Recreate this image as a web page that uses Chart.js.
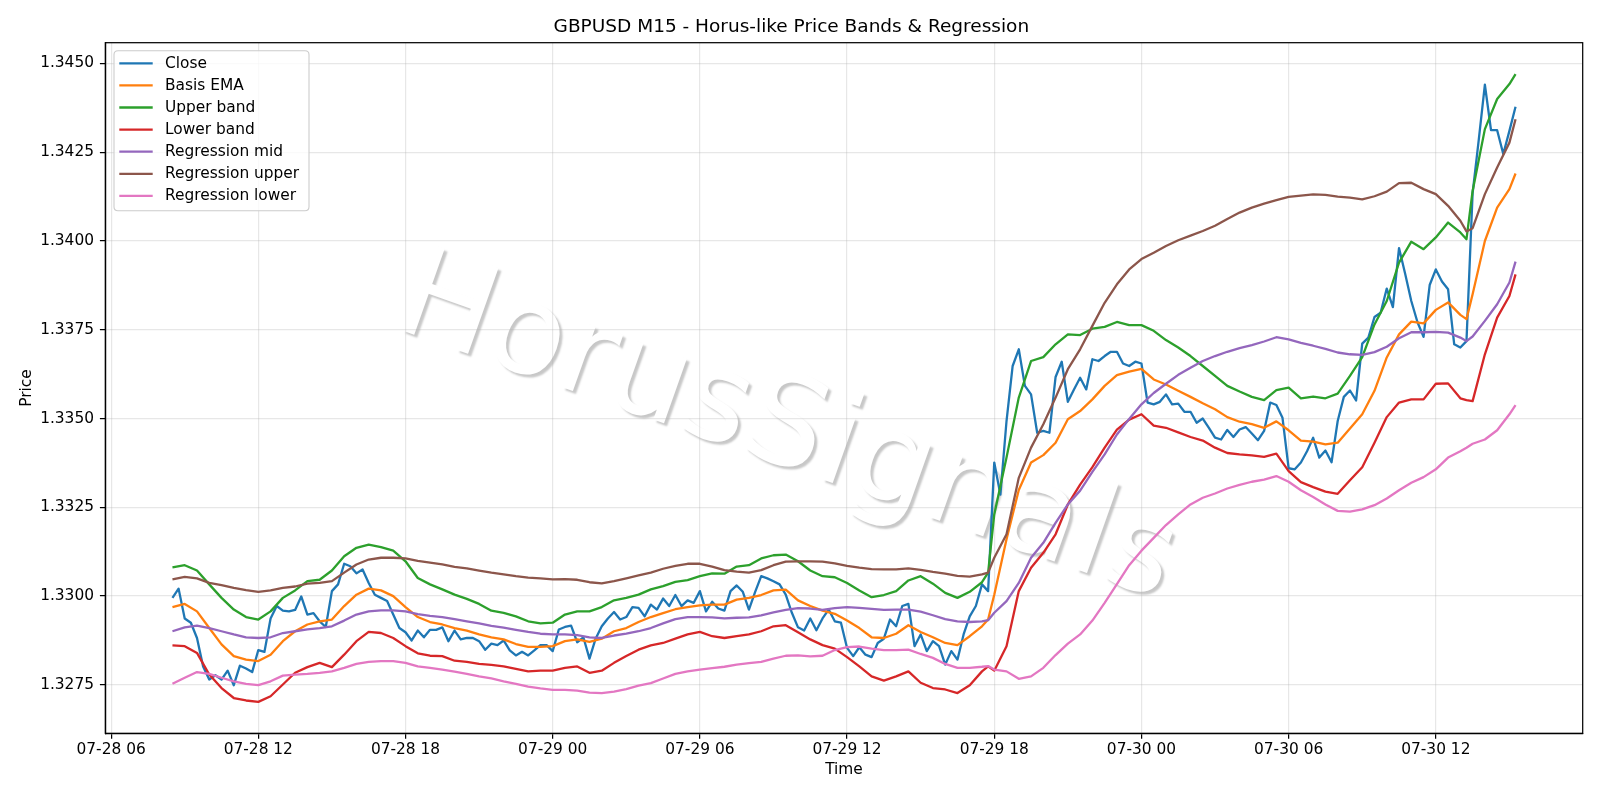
<!DOCTYPE html>
<html>
<head>
<meta charset="utf-8">
<script src="https://cdn.jsdelivr.net/npm/chart.js@4.4.1/dist/chart.umd.min.js"></script>
<style>
  html, body { margin: 0; padding: 0; background: #ffffff; }
  #wrap { width: 1600px; height: 800px; }
</style>
</head>
<body>
<div id="wrap"><canvas id="c" width="1600" height="800"></canvas></div>
<script>
// ---- time axis (hours since 07-28 00:00) ----
const startHour = 8.5;      // first bar: 07-28 08:30
const stepHours = 0.25;     // M15 bars
const xTickHours = [6, 12, 18, 24, 30, 36, 42, 48, 54, 60];
const xTickLabels = ['07-28 06', '07-28 12', '07-28 18', '07-29 00', '07-29 06', '07-29 12', '07-29 18', '07-30 00', '07-30 06', '07-30 12'];
const yTickValues = [1.3275, 1.3300, 1.3325, 1.3350, 1.3375, 1.3400, 1.3425, 1.3450];

const seriesNames = ['Close', 'Basis EMA', 'Upper band', 'Lower band', 'Regression mid', 'Regression upper', 'Regression lower'];
const seriesColors = ['#1f77b4', '#ff7f0e', '#2ca02c', '#d62728', '#9467bd', '#8c564b', '#e377c2'];
const watermarkText = 'HorusSignals';

// Close, every M15 bar
const closeValues = [
  1.32995, 1.33021, 1.32937, 1.32925, 1.32882, 1.32802, 1.32765, 1.32777, 1.32765, 1.32790,
  1.32749, 1.32804, 1.32796, 1.32786, 1.32848, 1.32843, 1.32937, 1.32972, 1.32959, 1.32957,
  1.32961, 1.32999, 1.32948, 1.32952, 1.32929, 1.32913, 1.33014, 1.33033, 1.33091, 1.33084,
  1.33064, 1.33075, 1.33037, 1.33004, 1.32995, 1.32986, 1.32948, 1.32910, 1.32898, 1.32875,
  1.32903, 1.32884, 1.32905, 1.32905, 1.32912, 1.32873, 1.32903, 1.32878, 1.32882, 1.32882,
  1.32873, 1.32849, 1.32866, 1.32862, 1.32875, 1.32847, 1.32833, 1.32843, 1.32833, 1.32847,
  1.32862, 1.32862, 1.32845, 1.32906, 1.32913, 1.32917, 1.32870, 1.32884, 1.32824, 1.32880,
  1.32915, 1.32937, 1.32955, 1.32934, 1.32941, 1.32969, 1.32967, 1.32943, 1.32976, 1.32962,
  1.32993, 1.32972, 1.33003, 1.32972, 1.32988, 1.32981, 1.33014, 1.32957, 1.32984, 1.32965,
  1.32959, 1.33014, 1.33030, 1.33012, 1.32962, 1.33011, 1.33056, 1.33050, 1.33042, 1.33033,
  1.33004, 1.32953, 1.32912, 1.32903, 1.32937, 1.32904, 1.32937, 1.32962, 1.32929, 1.32925,
  1.32854, 1.32831, 1.32856, 1.32835, 1.32828, 1.32868, 1.32880, 1.32934, 1.32915, 1.32972,
  1.32978, 1.32859, 1.32892, 1.32845, 1.32873, 1.32859, 1.32807, 1.32845, 1.32821, 1.32892,
  1.32943, 1.32972, 1.33033, 1.33014, 1.33376, 1.33286, 1.33493, 1.33648, 1.33695, 1.33592,
  1.33568, 1.33460, 1.33465, 1.33460, 1.33617, 1.33660, 1.33547, 1.33582, 1.33615, 1.33582,
  1.33667, 1.33662, 1.33676, 1.33688, 1.33688, 1.33655, 1.33648, 1.33660, 1.33655, 1.33545,
  1.33540, 1.33547, 1.33568, 1.33540, 1.33542, 1.33519, 1.33519, 1.33488, 1.33500, 1.33474,
  1.33446, 1.33441, 1.33468, 1.33448, 1.33469, 1.33476, 1.33458, 1.33439, 1.33465, 1.33545,
  1.33538, 1.33502, 1.33360, 1.33357, 1.33376, 1.33408, 1.33446, 1.33390, 1.33410, 1.33377,
  1.33493, 1.33561, 1.33579, 1.33551, 1.33711, 1.33728, 1.33786, 1.33798, 1.33866, 1.33814,
  1.33980, 1.33908, 1.33831, 1.33772, 1.33730, 1.33876, 1.33920, 1.33886, 1.33864, 1.33709,
  1.33700, 1.33718, 1.34135, 1.34285, 1.34440, 1.34312, 1.34312, 1.34245, 1.34310, 1.34378
];

// Smooth series were read at these bar indices (every 30 min plus a few turning points)
const bandIdx = [];
for (let i = 0; i <= 218; i += 2) bandIdx.push(i);
bandIdx.push(133, 211, 219);
bandIdx.sort((a, b) => a - b);

const emaValues = [
  1.32969, 1.32978, 1.32957, 1.32910, 1.32864, 1.32831, 1.32821, 1.32817, 1.32835, 1.32873,
  1.32901, 1.32920, 1.32929, 1.32934, 1.32972, 1.33004, 1.33021, 1.33016, 1.33000, 1.32969,
  1.32941, 1.32927, 1.32920, 1.32910, 1.32903, 1.32892, 1.32884, 1.32878, 1.32865, 1.32857,
  1.32857, 1.32859, 1.32873, 1.32878, 1.32871, 1.32880, 1.32901, 1.32910, 1.32927, 1.32941,
  1.32952, 1.32963, 1.32969, 1.32974, 1.32976, 1.32976, 1.32990, 1.32995, 1.33003, 1.33016,
  1.33018, 1.32988, 1.32972, 1.32959, 1.32950, 1.32931, 1.32910, 1.32884, 1.32882, 1.32894,
  1.32918, 1.32899, 1.32884, 1.32868, 1.32862, 1.32887, 1.32915, 1.32934, 1.33004, 1.33160, 1.33299,
  1.33376, 1.33397, 1.33432, 1.33498, 1.33521, 1.33554, 1.33592, 1.33622, 1.33632, 1.33640,
  1.33610, 1.33596, 1.33578, 1.33561, 1.33543, 1.33526, 1.33504, 1.33491, 1.33484, 1.33474,
  1.33492, 1.33467, 1.33438, 1.33435, 1.33427, 1.33432, 1.33472, 1.33512, 1.33578, 1.33672,
  1.33737, 1.33773, 1.33768, 1.33806, 1.33827, 1.33792, 1.33780, 1.33850, 1.34000, 1.34094, 1.34146, 1.34190
];

const upperValues = [
  1.33081, 1.33087, 1.33072, 1.33033, 1.32995, 1.32962, 1.32941, 1.32934, 1.32957, 1.32995,
  1.33016, 1.33042, 1.33046, 1.33072, 1.33112, 1.33136, 1.33145, 1.33138, 1.33128, 1.33098,
  1.33051, 1.33033, 1.33019, 1.33004, 1.32992, 1.32978, 1.32959, 1.32953, 1.32943, 1.32929,
  1.32923, 1.32925, 1.32948, 1.32957, 1.32957, 1.32969, 1.32988, 1.32995, 1.33004, 1.33019,
  1.33028, 1.33040, 1.33045, 1.33056, 1.33064, 1.33063, 1.33083, 1.33087, 1.33106, 1.33115,
  1.33117, 1.33098, 1.33072, 1.33056, 1.33053, 1.33037, 1.33016, 1.32997, 1.33003, 1.33014,
  1.33044, 1.33056, 1.33035, 1.33009, 1.32995, 1.33012, 1.33039, 1.33066, 1.33230, 1.33390, 1.33559,
  1.33662, 1.33673, 1.33709, 1.33737, 1.33735, 1.33753, 1.33758, 1.33772, 1.33763, 1.33763,
  1.33747, 1.33721, 1.33700, 1.33676, 1.33648, 1.33620, 1.33592, 1.33576, 1.33561, 1.33552,
  1.33580, 1.33587, 1.33557, 1.33562, 1.33557, 1.33570, 1.33620, 1.33673, 1.33765, 1.33831,
  1.33939, 1.33998, 1.33977, 1.34010, 1.34052, 1.34024, 1.34005, 1.34141, 1.34315, 1.34400, 1.34442, 1.34470
];

const lowerValues = [
  1.32861, 1.32859, 1.32840, 1.32779, 1.32741, 1.32713, 1.32706, 1.32702, 1.32718, 1.32751,
  1.32784, 1.32800, 1.32812, 1.32800, 1.32835, 1.32873, 1.32899, 1.32896, 1.32882, 1.32859,
  1.32839, 1.32832, 1.32831, 1.32818, 1.32815, 1.32809, 1.32806, 1.32802, 1.32795, 1.32788,
  1.32790, 1.32790, 1.32798, 1.32802, 1.32784, 1.32790, 1.32812, 1.32831, 1.32849, 1.32861,
  1.32868, 1.32880, 1.32892, 1.32899, 1.32887, 1.32882, 1.32887, 1.32892, 1.32901, 1.32915,
  1.32918, 1.32898, 1.32878, 1.32862, 1.32852, 1.32828, 1.32802, 1.32774, 1.32762, 1.32774,
  1.32788, 1.32756, 1.32741, 1.32737, 1.32727, 1.32749, 1.32788, 1.32802, 1.32790, 1.32859, 1.33014,
  1.33080, 1.33122, 1.33174, 1.33258, 1.33314, 1.33363, 1.33418, 1.33469, 1.33497, 1.33512,
  1.33480, 1.33474, 1.33461, 1.33448, 1.33438, 1.33418, 1.33403, 1.33399, 1.33396, 1.33392,
  1.33401, 1.33352, 1.33321, 1.33307, 1.33294, 1.33288, 1.33326, 1.33363, 1.33432, 1.33504,
  1.33545, 1.33554, 1.33554, 1.33598, 1.33599, 1.33557, 1.33552, 1.33549, 1.33681, 1.33784, 1.33845, 1.33906
];

const regMidValues = [
  1.32901, 1.32912, 1.32917, 1.32910, 1.32901, 1.32892, 1.32884, 1.32882, 1.32884, 1.32896,
  1.32901, 1.32906, 1.32910, 1.32915, 1.32931, 1.32948, 1.32957, 1.32960, 1.32960, 1.32957,
  1.32949, 1.32944, 1.32941, 1.32935, 1.32929, 1.32923, 1.32916, 1.32911, 1.32905, 1.32899,
  1.32894, 1.32892, 1.32892, 1.32890, 1.32884, 1.32882, 1.32889, 1.32894, 1.32901, 1.32910,
  1.32923, 1.32935, 1.32941, 1.32941, 1.32940, 1.32937, 1.32939, 1.32940, 1.32946, 1.32954,
  1.32961, 1.32966, 1.32965, 1.32961, 1.32966, 1.32969, 1.32967, 1.32964, 1.32961, 1.32962,
  1.32962, 1.32956, 1.32946, 1.32935, 1.32929, 1.32927, 1.32929, 1.32932, 1.32953, 1.32986, 1.33037,
  1.33108, 1.33150, 1.33206, 1.33258, 1.33297, 1.33350, 1.33399, 1.33455, 1.33499, 1.33540,
  1.33572, 1.33598, 1.33623, 1.33643, 1.33662, 1.33676, 1.33688, 1.33698, 1.33707, 1.33717,
  1.33729, 1.33723, 1.33713, 1.33705, 1.33696, 1.33686, 1.33681, 1.33679, 1.33687, 1.33702,
  1.33726, 1.33743, 1.33743, 1.33744, 1.33742, 1.33728, 1.33718, 1.33731, 1.33775, 1.33822, 1.33883, 1.33942
];

const regUpperValues = [
  1.33047, 1.33054, 1.33050, 1.33037, 1.33031, 1.33023, 1.33017, 1.33012, 1.33016, 1.33023,
  1.33027, 1.33035, 1.33037, 1.33042, 1.33066, 1.33089, 1.33103, 1.33108, 1.33108, 1.33106,
  1.33099, 1.33094, 1.33089, 1.33082, 1.33078, 1.33072, 1.33066, 1.33061, 1.33056, 1.33052,
  1.33050, 1.33047, 1.33048, 1.33046, 1.33039, 1.33036, 1.33042, 1.33050, 1.33058, 1.33066,
  1.33077, 1.33085, 1.33091, 1.33091, 1.33083, 1.33073, 1.33069, 1.33066, 1.33073, 1.33087,
  1.33097, 1.33098, 1.33098, 1.33097, 1.33092, 1.33085, 1.33080, 1.33076, 1.33075, 1.33075,
  1.33078, 1.33074, 1.33068, 1.33063, 1.33057, 1.33055, 1.33061, 1.33066, 1.33108, 1.33174, 1.33333,
  1.33418, 1.33484, 1.33559, 1.33639, 1.33695, 1.33761, 1.33826, 1.33878, 1.33920, 1.33949,
  1.33967, 1.33986, 1.34002, 1.34015, 1.34028, 1.34043, 1.34062, 1.34080, 1.34094, 1.34105,
  1.34115, 1.34124, 1.34128, 1.34131, 1.34130, 1.34125, 1.34122, 1.34117, 1.34126, 1.34139,
  1.34163, 1.34164, 1.34146, 1.34132, 1.34099, 1.34057, 1.34027, 1.34036, 1.34132, 1.34207, 1.34277, 1.34343
];

const regLowerValues = [
  1.32753, 1.32770, 1.32786, 1.32781, 1.32770, 1.32760, 1.32753, 1.32749, 1.32760, 1.32776,
  1.32779, 1.32781, 1.32784, 1.32788, 1.32798, 1.32809, 1.32815, 1.32817, 1.32817, 1.32812,
  1.32802, 1.32798, 1.32793, 1.32787, 1.32781, 1.32774, 1.32768, 1.32760, 1.32753, 1.32745,
  1.32740, 1.32736, 1.32736, 1.32734, 1.32728, 1.32727, 1.32731, 1.32738, 1.32748, 1.32755,
  1.32768, 1.32781, 1.32788, 1.32793, 1.32797, 1.32801, 1.32807, 1.32811, 1.32815, 1.32824,
  1.32832, 1.32833, 1.32830, 1.32832, 1.32848, 1.32856, 1.32858, 1.32852, 1.32848, 1.32848,
  1.32849, 1.32837, 1.32826, 1.32809, 1.32798, 1.32798, 1.32801, 1.32803, 1.32793, 1.32788, 1.32767,
  1.32774, 1.32798, 1.32834, 1.32866, 1.32892, 1.32931, 1.32981, 1.33034, 1.33087, 1.33128,
  1.33164, 1.33200, 1.33230, 1.33258, 1.33277, 1.33289, 1.33303, 1.33313, 1.33322, 1.33328,
  1.33338, 1.33322, 1.33298, 1.33279, 1.33258, 1.33240, 1.33238, 1.33244, 1.33256, 1.33275,
  1.33298, 1.33319, 1.33335, 1.33357, 1.33390, 1.33408, 1.33418, 1.33429, 1.33441, 1.33467, 1.33512, 1.33538
];

// ---- build datasets ----
const closePts = closeValues.map((v, i) => ({ x: startHour + i * stepHours, y: v }));
const bandPts = vals => bandIdx.map((k, j) => ({ x: startHour + k * stepHours, y: vals[j] }));
const allSeries = [closePts, bandPts(emaValues), bandPts(upperValues), bandPts(lowerValues),
                   bandPts(regMidValues), bandPts(regUpperValues), bandPts(regLowerValues)];

// matplotlib-style 5% margins
const xs = closePts.map(p => p.x);
const allY = allSeries.flat().map(p => p.y);
const xMin0 = Math.min(...xs), xMax0 = Math.max(...xs);
const yMin0 = Math.min(...allY), yMax0 = Math.max(...allY);
const xPad = (xMax0 - xMin0) * 0.05, yPad = (yMax0 - yMin0) * 0.05;

const FONT = 'DejaVu Sans';
Chart.defaults.font.family = FONT;
Chart.defaults.color = '#000000';

const datasets = allSeries.map((pts, k) => ({
  label: seriesNames[k],
  data: pts,
  borderColor: seriesColors[k],
  backgroundColor: seriesColors[k],
  borderWidth: 2.3,
  pointRadius: 0,
  pointHoverRadius: 0,
  tension: 0,
  fill: false,
  borderJoinStyle: 'round',
  order: seriesNames.length - k
}));

// white text with a soft grey drop shadow, underneath the grid and lines
const watermarkPlugin = {
  id: 'watermark',
  beforeDraw(chart) {
    const ctx = chart.ctx;
    ctx.save();
    ctx.fillStyle = '#ffffff';
    ctx.fillRect(0, 0, chart.width, chart.height);
    ctx.translate(786, 432);
    ctx.rotate(19.5 * Math.PI / 180);
    ctx.font = '125px "' + FONT + '"';
    ctx.textAlign = 'center';
    ctx.textBaseline = 'middle';
    ctx.shadowColor = 'rgba(0,0,0,0.22)';
    ctx.shadowOffsetX = 3;
    ctx.shadowOffsetY = 3;
    ctx.shadowBlur = 2;
    ctx.fillStyle = '#ffffff';
    ctx.fillText(watermarkText, 0, 0);
    ctx.restore();
  }
};

const framePlugin = {
  id: 'frame',
  afterDatasetsDraw(chart) {
    const ctx = chart.ctx, a = chart.chartArea;
    ctx.save();
    ctx.strokeStyle = '#000000';
    ctx.lineWidth = 1.23;
    ctx.strokeRect(a.left, a.top, a.right - a.left, a.bottom - a.top);
    ctx.restore();
  }
};

const legendPlugin = {
  id: 'mplLegend',
  afterDraw(chart) {
    const ctx = chart.ctx, a = chart.chartArea;
    const bx = a.left + 8.7, by = a.top + 8, bw = 195, bh = 160, r = 4;
    ctx.save();
    ctx.beginPath();
    ctx.moveTo(bx + r, by);
    ctx.lineTo(bx + bw - r, by);
    ctx.quadraticCurveTo(bx + bw, by, bx + bw, by + r);
    ctx.lineTo(bx + bw, by + bh - r);
    ctx.quadraticCurveTo(bx + bw, by + bh, bx + bw - r, by + bh);
    ctx.lineTo(bx + r, by + bh);
    ctx.quadraticCurveTo(bx, by + bh, bx, by + bh - r);
    ctx.lineTo(bx, by + r);
    ctx.quadraticCurveTo(bx, by, bx + r, by);
    ctx.closePath();
    ctx.fillStyle = 'rgba(255,255,255,0.8)';
    ctx.fill();
    ctx.strokeStyle = '#cccccc';
    ctx.lineWidth = 1.1;
    ctx.stroke();
    ctx.font = '15.4px "' + FONT + '"';
    ctx.textBaseline = 'middle';
    ctx.textAlign = 'left';
    chart.data.datasets.forEach((ds, j) => {
      const y = by + 12.6 + j * 22.1;
      ctx.strokeStyle = ds.borderColor;
      ctx.lineWidth = 2.3;
      ctx.beginPath();
      ctx.moveTo(bx + 5.3, y);
      ctx.lineTo(bx + 38.7, y);
      ctx.stroke();
      ctx.fillStyle = '#000000';
      ctx.fillText(ds.label, bx + 51, y + 0.5);
    });
    ctx.restore();
  }
};

new Chart(document.getElementById('c'), {
  type: 'line',
  data: { datasets },
  plugins: [watermarkPlugin, framePlugin, legendPlugin],
  options: {
    responsive: false,
    animation: false,
    devicePixelRatio: 1,
    layout: { padding: { top: 0, right: 17.3, bottom: 0, left: 0 } },
    plugins: {
      legend: { display: false },
      tooltip: { enabled: false },
      title: {
        display: true,
        text: 'GBPUSD M15 - Horus-like Price Bands & Regression',
        color: '#000000',
        font: { family: FONT, size: 18.5, weight: 'normal' },
        padding: { top: 16.2, bottom: 4.3 }
      }
    },
    scales: {
      x: {
        type: 'linear',
        min: xMin0 - xPad,
        max: xMax0 + xPad,
        afterBuildTicks: s => { s.ticks = xTickHours.map(v => ({ value: v })); },
        afterFit: s => { s.height = 66.7; },
        ticks: {
          autoSkip: false,
          maxRotation: 0,
          padding: 2.5,
          color: '#000000',
          font: { family: FONT, size: 15.4 },
          callback: v => { const k = xTickHours.indexOf(v); return k >= 0 ? xTickLabels[k] : ''; }
        },
        grid: { color: 'rgba(176,176,176,0.3)', lineWidth: 1.23, tickColor: '#000000', tickLength: 5.4, tickWidth: 1.23 },
        border: { display: true, color: '#000000', width: 1.23 },
        title: { display: true, text: 'Time', color: '#000000', font: { family: FONT, size: 15.4 }, padding: { top: 0, bottom: 20.4 } }
      },
      y: {
        type: 'linear',
        min: yMin0 - yPad,
        max: yMax0 + yPad,
        afterBuildTicks: s => { s.ticks = yTickValues.map(v => ({ value: v })); },
        afterFit: s => { s.width = 105.3; },
        ticks: {
          autoSkip: false,
          padding: 5.9,
          color: '#000000',
          font: { family: FONT, size: 15.4 },
          callback: v => Number(v).toFixed(4)
        },
        grid: { color: 'rgba(176,176,176,0.3)', lineWidth: 1.23, tickColor: '#000000', tickLength: 5.4, tickWidth: 1.23 },
        border: { display: true, color: '#000000', width: 1.23 },
        title: { display: true, text: 'Price', color: '#000000', font: { family: FONT, size: 15.4 }, padding: { top: 17.3, bottom: 0 } }
      }
    }
  }
});
</script>
</body>
</html>
